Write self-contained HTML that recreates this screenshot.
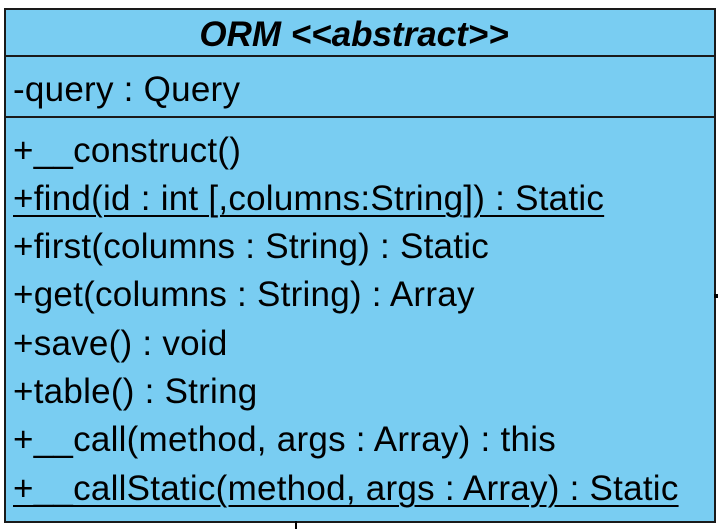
<!DOCTYPE html>
<html><head><style>
body{margin:0;width:720px;height:529px;background:#fff;position:relative;overflow:hidden;font-family:"Liberation Sans",Arial,sans-serif;}
.box{position:absolute;left:4px;top:8px;width:708px;height:511px;border:2px solid #1a1a1a;background:#79cdf2;}
.t{position:absolute;left:-6px;width:708px;text-align:center;top:5px;font-size:35px;font-weight:bold;font-style:italic;color:#000;line-height:40px;}
.hl{position:absolute;left:0;width:708px;height:2px;background:#1a1a1a;}
.r{position:absolute;left:7px;font-size:35px;color:#000;white-space:nowrap;line-height:34px;letter-spacing:0.25px;}
.u{text-decoration:underline;text-decoration-thickness:2px;text-underline-offset:5px;}
</style></head><body>
<div class="box">
<div class="t">ORM &lt;&lt;abstract&gt;&gt;</div>
<div class="hl" style="top:45px"></div>
<div class="r" style="top:63px">-query : Query</div>
<div class="hl" style="top:106px"></div>
<div class="r" style="top:124px">+__construct()</div>
<div class="r u" style="top:172px">+find(id : int [,columns:String]) : Static</div>
<div class="r" style="top:220px">+first(columns : String) : Static</div>
<div class="r" style="top:268px">+get(columns : String) : Array</div>
<div class="r" style="top:317px">+save() : void</div>
<div class="r" style="top:365px">+table() : String</div>
<div class="r" style="top:413px">+__call(method, args : Array) : this</div>
<div class="r u" style="top:462px">+__callStatic(method, args : Array) : Static</div>
</div>
<div style="position:absolute;left:295px;top:521px;width:2px;height:8px;background:#000"></div>
<div style="position:absolute;left:714px;top:294px;width:4px;height:4px;background:#000"></div>
</body></html>
